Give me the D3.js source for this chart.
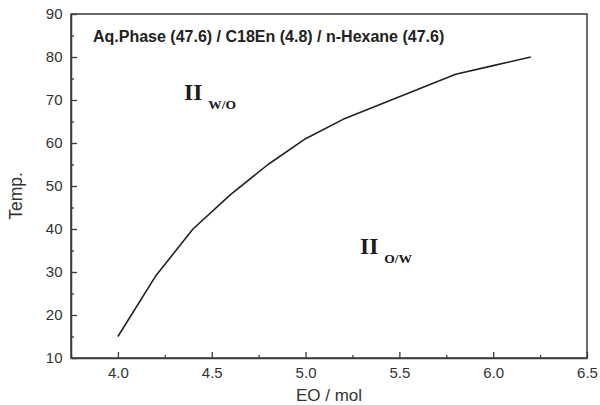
<!DOCTYPE html>
<html>
<head>
<meta charset="utf-8">
<script src="https://cdn.jsdelivr.net/npm/d3@7"></script>
<style>
  html, body { margin: 0; padding: 0; background: #fff; }
  svg { display: block; }
</style>
</head>
<body>
<svg id="chart" width="600" height="405"></svg>
<script>
// Phase boundary: EO units vs. temperature
const eo   = [4.0, 4.2, 4.4, 4.6, 4.8, 5.0, 5.2, 5.4, 5.6, 5.8, 6.0, 6.2];
const temp = [15, 29, 40, 48, 55, 61, 65.5, 69, 72.5, 76, 78, 80];

const xTicks = [4.0, 4.5, 5.0, 5.5, 6.0, 6.5];
const yTicks = [10, 20, 30, 40, 50, 60, 70, 80, 90];
const xMinor = [3.75, 4.25, 4.75, 5.25, 5.75, 6.25];
const yMinor = [15, 25, 35, 45, 55, 65, 75, 85];

const title = "Aq.Phase (47.6) / C18En (4.8) / n-Hexane (47.6)";
const xTitle = "EO / mol";
const yTitle = "Temp.";

const svg = d3.select("#chart");
const m = { left: 71, right: 13, top: 14, bottom: 47 };
const W = 600, H = 405;

const x = d3.scaleLinear().domain([3.75, 6.5]).range([m.left, W - m.right]);
const y = d3.scaleLinear().domain([10, 90]).range([H - m.bottom, m.top]);

const axisColor = "#3a3a3a";
const labelFont = "Liberation Sans, Arial, sans-serif";

// frame
svg.append("rect")
  .attr("x", x(3.75)).attr("y", y(90))
  .attr("width", x(6.5) - x(3.75)).attr("height", y(10) - y(90))
  .attr("fill", "none").attr("stroke", axisColor).attr("stroke-width", 1.5);

// bottom axis, ticks inward
const gx = svg.append("g").attr("transform", `translate(0,${y(10)})`)
  .call(d3.axisBottom(x).tickValues(xTicks).tickFormat(d3.format(".1f"))
    .tickSizeInner(-6).tickSizeOuter(0).tickPadding(9));
gx.select(".domain").attr("stroke", axisColor).attr("stroke-width", 1.5);
gx.selectAll(".tick line").attr("stroke", axisColor).attr("stroke-width", 1.3);
gx.selectAll(".tick text").attr("font-family", labelFont).attr("font-size", 15).attr("fill", "#333");

svg.append("g").attr("transform", `translate(0,${y(10)})`)
  .call(d3.axisBottom(x).tickValues(xMinor).tickFormat("").tickSizeInner(-3).tickSizeOuter(0))
  .call(g => g.select(".domain").remove())
  .selectAll(".tick line").attr("stroke", axisColor).attr("stroke-width", 1.3);

// left axis, ticks inward
const gy = svg.append("g").attr("transform", `translate(${x(3.75)},0)`)
  .call(d3.axisLeft(y).tickValues(yTicks)
    .tickSizeInner(-6).tickSizeOuter(0).tickPadding(8.5));
gy.select(".domain").attr("stroke", axisColor).attr("stroke-width", 1.5);
gy.selectAll(".tick line").attr("stroke", axisColor).attr("stroke-width", 1.3);
gy.selectAll(".tick text").attr("font-family", labelFont).attr("font-size", 15).attr("fill", "#333");

svg.append("g").attr("transform", `translate(${x(3.75)},0)`)
  .call(d3.axisLeft(y).tickValues(yMinor).tickFormat("").tickSizeInner(-3).tickSizeOuter(0))
  .call(g => g.select(".domain").remove())
  .selectAll(".tick line").attr("stroke", axisColor).attr("stroke-width", 1.3);

// boundary curve
const line = d3.line().x((d, i) => x(eo[i])).y(d => y(d));
svg.append("path").datum(temp)
  .attr("d", line)
  .attr("fill", "none").attr("stroke", "#222").attr("stroke-width", 1.6)
  .attr("stroke-linejoin", "round");

// title inside plot
svg.append("text")
  .attr("x", 93).attr("y", 42)
  .attr("font-family", labelFont).attr("font-weight", "bold").attr("font-size", 16)
  .attr("fill", "#222").text(title);

// phase region labels
function region(px, py, sub) {
  const t = svg.append("text").attr("x", px).attr("y", py)
    .attr("font-family", "Liberation Serif, Times New Roman, serif").attr("font-weight", "bold")
    .attr("fill", "#1a1a1a");
  t.append("tspan").attr("font-size", 23.5).text("II");
  t.append("tspan").attr("font-size", 13.5).attr("dx", 6).attr("dy", 8.5).text(sub);
}
region(184, 100, "W/O");
region(360, 254, "O/W");

// axis titles
svg.append("text")
  .attr("x", x(5.125)).attr("y", 401)
  .attr("text-anchor", "middle")
  .attr("font-family", labelFont).attr("font-size", 17).attr("fill", "#333")
  .text(xTitle);

svg.append("text")
  .attr("transform", `translate(21.5,${y(47.7)}) rotate(-90)`)
  .attr("text-anchor", "middle")
  .attr("font-family", labelFont).attr("font-size", 17.5).attr("fill", "#333")
  .text(yTitle);
</script>
</body>
</html>
